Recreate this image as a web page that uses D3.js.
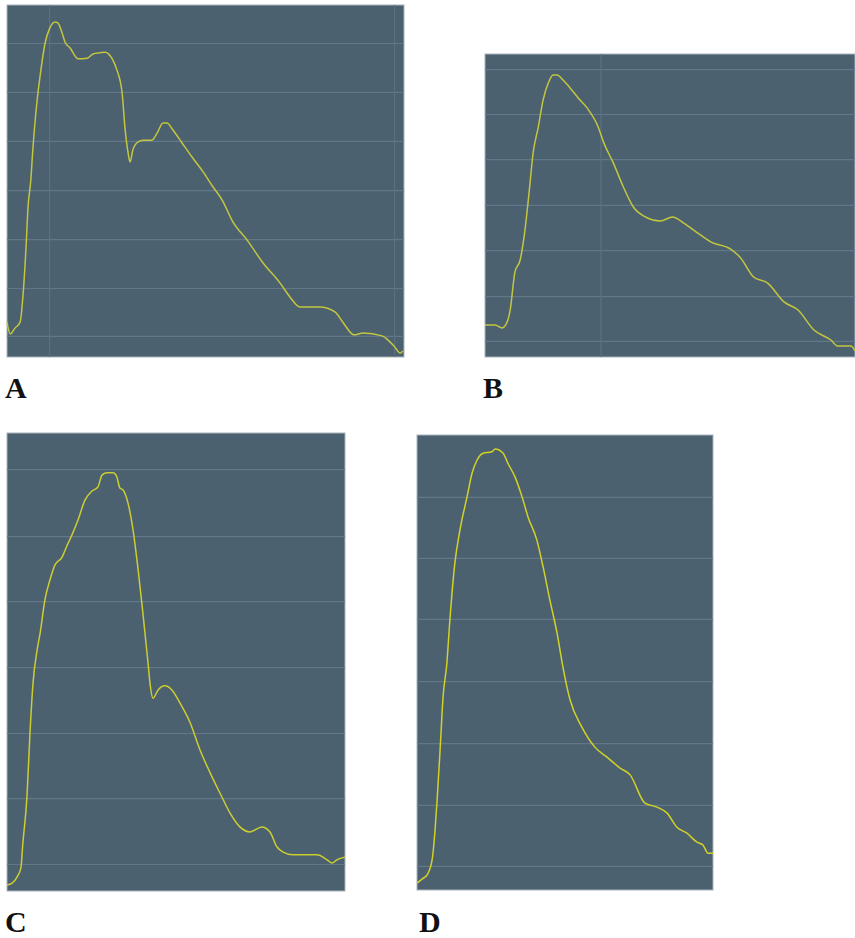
<!DOCTYPE html>
<html>
<head>
<meta charset="UTF-8">
<title>Signal panels A-D</title>
<style>
  body { margin: 0; background: #fff; }
  svg { display: block; }
</style>
</head>
<body>
<svg id="chart" width="855" height="938"></svg>
<script src="https://cdn.jsdelivr.net/npm/d3@7/dist/d3.min.js"></script>
<script>
// --- data: x = % of record time, y = % of panel amplitude ---
const panelNames = ["A", "B", "C", "D"];

const seriesA = [
  [0, 9.9], [0.8, 6.5], [2.0, 8.2], [3.3, 9.9], [4.0, 17.0], [4.8, 31.3], [5.3, 42.6],
  [6.0, 50.3], [6.5, 58.8], [7.6, 73.0], [8.3, 79.5], [9.6, 89.2], [10.8, 93.5],
  [12.1, 95.2], [12.8, 94.9], [13.9, 92.0], [14.6, 89.5], [15.9, 87.8], [17.9, 84.7],
  [20.2, 84.9], [21.7, 86.1], [23.4, 86.4], [24.7, 86.6], [26.4, 84.9], [27.7, 81.5],
  [29.0, 75.0], [29.7, 65.3], [30.5, 58.0], [31.0, 55.4], [31.7, 58.8], [33.0, 61.1],
  [34.3, 61.6], [36.5, 61.6], [37.8, 63.6], [39.3, 66.5], [40.3, 66.5], [41.8, 64.5],
  [44.1, 60.8], [46.6, 56.8], [49.4, 52.6], [51.9, 48.3], [54.2, 44.6], [56.9, 38.4],
  [60.5, 33.2], [64.5, 26.7], [68.8, 21.0], [71.3, 17.0], [73.8, 14.2], [78.8, 14.2],
  [82.6, 12.8], [84.6, 9.9], [87.4, 6.3], [89.7, 6.8], [94.5, 6.0], [96.0, 4.8],
  [97.7, 2.8], [99.0, 1.1], [99.7, 1.7]
];

const seriesB = [
  [0, 10.6], [2.7, 10.6], [4.6, 9.6], [6.0, 11.6], [6.8, 15.5], [8.1, 28.1], [9.5, 32.0],
  [10.8, 41.9], [11.9, 54.1], [13.0, 67.3], [14.4, 75.9], [15.7, 84.8], [17.1, 90.4],
  [18.4, 93.1], [19.5, 93.1], [21.1, 91.4], [23.0, 88.8], [25.2, 85.5], [27.6, 82.2],
  [30.6, 75.9], [32.0, 71.0], [34.7, 64.0], [37.4, 56.1], [40.1, 49.5], [43.4, 46.2],
  [47.4, 44.9], [50.7, 46.2], [53.7, 44.2], [57.5, 40.9], [61.0, 38.0], [66.4, 35.6],
  [69.1, 32.7], [72.6, 26.4], [76.4, 24.4], [80.8, 18.2], [84.6, 15.5], [88.9, 8.9],
  [93.5, 5.6], [95.4, 3.6], [98.9, 3.6], [100, 2.0]
];

const seriesC = [
  [0, 1.3], [1.5, 1.7], [3.0, 3.1], [4.1, 5.0], [4.7, 10.5], [5.9, 20.5], [6.8, 34.5],
  [7.7, 45.4], [8.9, 52.6], [9.8, 56.3], [11.2, 63.5], [12.7, 67.9], [14.2, 71.2],
  [16.3, 72.9], [17.8, 75.5], [19.2, 77.7], [21.0, 81.0], [23.1, 85.4], [25.1, 87.3],
  [26.9, 88.2], [28.1, 90.8], [29.6, 91.3], [31.4, 91.3], [32.5, 90.4], [33.4, 88.0],
  [34.3, 87.6], [35.8, 84.7], [37.3, 78.8], [38.8, 70.1], [40.2, 60.7], [41.7, 50.0],
  [42.3, 45.4], [43.2, 42.1], [44.7, 43.9], [46.7, 44.8], [48.8, 43.9], [51.2, 41.0],
  [54.1, 36.9], [57.1, 30.8], [60.1, 25.8], [63.0, 21.4], [66.0, 17.0], [68.9, 14.0],
  [71.9, 12.9], [75.4, 14.0], [77.8, 12.9], [79.9, 9.6], [81.7, 8.5], [84.6, 7.9],
  [91.7, 7.9], [94.7, 6.8], [96.2, 6.1], [97.6, 6.8], [100, 7.4]
];

const seriesD = [
  [0, 1.5], [1.7, 2.4], [3.4, 3.3], [5.1, 6.6], [6.1, 13.2], [6.8, 19.8], [7.8, 30.8],
  [8.8, 42.4], [10.1, 49.9], [11.1, 59.3], [12.8, 71.9], [14.5, 79.1], [16.9, 86.4],
  [18.6, 91.6], [20.3, 94.5], [22.3, 96.0], [25.3, 96.3], [26.4, 96.9], [29.1, 96.0],
  [30.7, 93.8], [33.1, 90.8], [35.5, 86.4], [37.5, 82.0], [40.5, 76.9], [42.6, 71.0],
  [44.9, 63.7], [47.3, 56.5], [49.3, 49.0], [51.7, 41.8], [55.7, 35.8], [60.1, 31.4],
  [64.2, 29.2], [68.6, 26.8], [72.0, 25.3], [77.0, 19.1], [81.1, 18.2], [84.5, 16.9],
  [87.8, 13.8], [91.2, 12.5], [94.6, 10.5], [96.6, 9.9], [98.3, 8.1], [100, 8.1]
];

// gridline positions (same % units)
const gridYA = [6.0, 19.6, 33.5, 47.4, 61.4, 75.3, 89.2];
const gridYB = [5.3, 20.1, 35.3, 50.2, 65.3, 80.2, 95.0];
const gridYC = [5.9, 20.3, 34.5, 48.9, 63.3, 77.5, 92.1];
const gridYD = [5.3, 18.7, 32.3, 45.9, 59.6, 73.0, 86.4];
const gridXA = [10.6, 97.5];
const gridXB = [31.2];
const gridXC = [];
const gridXD = [];

// --- layout ---
const panels = [
  { name: panelNames[0], data: seriesA, gy: gridYA, gx: gridXA, x: 7,   y: 5,   w: 397, h: 352, lx: 5,   ly: 398, stroke: "#c3c63e" },
  { name: panelNames[1], data: seriesB, gy: gridYB, gx: gridXB, x: 485, y: 54,  w: 370, h: 303, lx: 483, ly: 398, stroke: "#c3c63e" },
  { name: panelNames[2], data: seriesC, gy: gridYC, gx: gridXC, x: 7,   y: 433, w: 338, h: 458, lx: 5,   ly: 932, stroke: "#cccd30" },
  { name: panelNames[3], data: seriesD, gy: gridYD, gx: gridXD, x: 417, y: 435, w: 296, h: 455, lx: 419, ly: 932, stroke: "#d2d226" }
];

const svg = d3.select("#chart");

panels.forEach(p => {
  const g = svg.append("g").attr("transform", `translate(${p.x},${p.y})`);

  const x = d3.scaleLinear().domain([0, 100]).range([0, p.w]);
  const y = d3.scaleLinear().domain([0, 100]).range([p.h, 0]);

  g.append("rect")
    .attr("width", p.w).attr("height", p.h)
    .attr("fill", "#4b6170")
    .attr("stroke", "#a9b3bb").attr("stroke-width", 1);

  g.append("g")
    .attr("class", "grid")
    .call(d3.axisLeft(y).tickValues(p.gy).tickSize(-p.w).tickFormat(""))
    .call(a => a.select(".domain").remove())
    .selectAll("line").attr("stroke", "#627888").attr("stroke-width", 1.2);

  g.append("g")
    .attr("class", "grid")
    .attr("transform", `translate(0,${p.h})`)
    .call(d3.axisBottom(x).tickValues(p.gx).tickSize(-p.h).tickFormat(""))
    .call(a => a.select(".domain").remove())
    .selectAll("line").attr("stroke", "#5b7080").attr("stroke-width", 1.2);

  const line = d3.line()
    .x(d => x(d[0]))
    .y(d => y(d[1]))
    .curve(d3.curveMonotoneX);

  g.append("path")
    .datum(p.data)
    .attr("fill", "none")
    .attr("stroke", p.stroke)
    .attr("stroke-width", 1.5)
    .attr("stroke-linejoin", "round")
    .attr("d", line);

  svg.append("text")
    .attr("x", p.lx).attr("y", p.ly)
    .attr("font-family", "'Liberation Serif', 'Times New Roman', serif")
    .attr("font-weight", "bold")
    .attr("font-size", 30)
    .attr("fill", "#111")
    .text(p.name);
});
</script>
</body>
</html>
